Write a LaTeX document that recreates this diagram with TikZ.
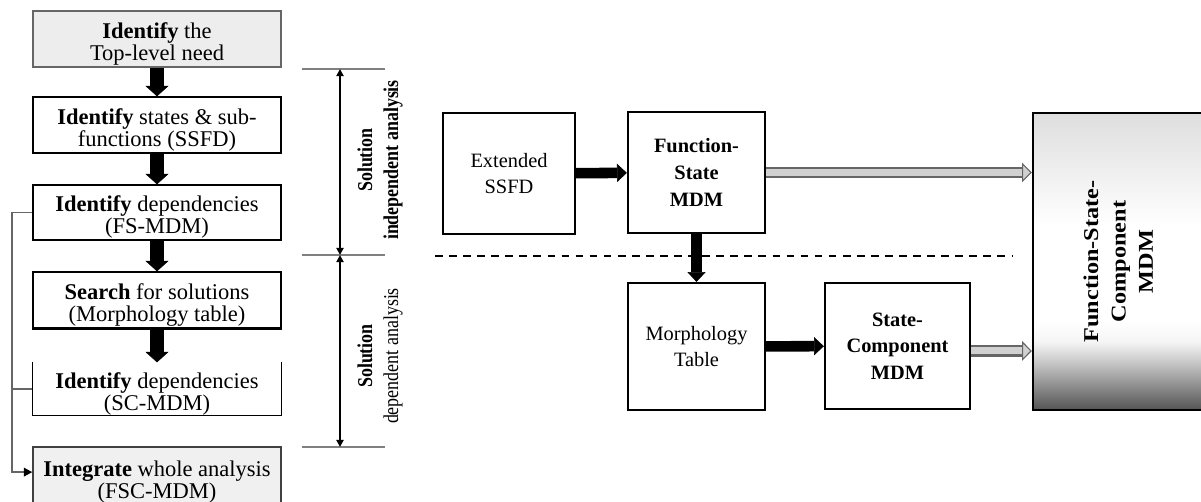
\documentclass[tikz,border=0pt]{standalone}
\usepackage{fontspec}
\setmainfont{Liberation Serif}
\usetikzlibrary{arrows.meta,calc}

% Verlauf der grossen Box (Angaben von unten nach oben)
\pgfdeclareverticalshading{fscverlauf}{100bp}{color(0bp)=(black!67); color(25bp)=(black!67); color(29.5bp)=(black!42); color(33bp)=(black!22); color(36.5bp)=(black!4); color(40bp)=(white); color(56bp)=(white); color(75bp)=(black!13); color(100bp)=(black!13)}

% zweizeiliger Text in den linken Boxen (etwas tiefer gesetzt)
\newcommand{\zweizeilig}[1]{\raisebox{-4pt}[\height][\depth]{\begin{tabular}{@{}c@{}}#1\end{tabular}}}

\tikzset{
    linksbox/.style={draw=black, line width=0.9pt, minimum width=6.2cm, inner sep=0pt, font=\fontsize{16}{15.5}\selectfont},
    rechtsbox/.style={draw=black, line width=1.6pt, align=center, inner sep=0pt, font=\fontsize{14.5}{18.5}\selectfont},
    dickpfeil/.style={line width=9.5pt, -{Triangle[length=7.5pt, width=16.5pt, line width=0.4pt]}},
    pfeil/.style={line width=7.5pt, -{Triangle[length=7pt, width=13pt, line width=0.4pt]}},
    grauPfeil/.style={draw=black!60, line width=8pt, -{Triangle[length=7pt, width=14pt, line width=0.8pt, fill=black!18]}},
    grauKern/.style={draw=black!18, line width=5pt, shorten >=7pt},
    klammer/.style={draw=black!50, line width=1.3pt},
    massPfeil/.style={line width=2pt, {Triangle[length=5pt, width=5pt]}-{Triangle[length=5pt, width=5pt]}},
    rueckLinie/.style={draw=black!60, line width=1.4pt},
    bezeichnung/.style={align=center, inner sep=0pt, font=\fontsize{15}{18.5}\selectfont}
}

\begin{document}
\begin{tikzpicture}[x=0.025cm, y=-0.025cm]
    % Bildgroesse
        \useasboundingbox (0, 0) rectangle (1201, 501);
        \clip (0, 0) rectangle (1201, 501);

    % Linke Spalte
        \node[linksbox, draw=black!60, fill=black!7, minimum height=1.4cm] (box1) at (157, 39) {\zweizeilig{\textbf{Identify} the\\Top-level need}};
        \node[linksbox, minimum height=1.4cm] (box2) at (157, 125) {\zweizeilig{\textbf{Identify} states \& sub-\\functions (SSFD)}};
        \node[linksbox, minimum height=1.375cm] (box3) at (157, 212.5) {\zweizeilig{\textbf{Identify} dependencies\\(FS-MDM)}};
        \node[linksbox, minimum height=1.4cm] (box4) at (157, 300) {\zweizeilig{\textbf{Search} for solutions\\(Morphology table)}};
        \node[linksbox, draw=none, minimum height=1.3cm] (box5) at (157, 389) {\zweizeilig{\textbf{Identify} dependencies\\(SC-MDM)}};
        \node[linksbox, draw=black!75, fill=black!6, minimum height=1.5cm] (box6) at (157, 477) {\zweizeilig{\textbf{Integrate} whole analysis\\(FSC-MDM)}};
        \draw[line width=0.9pt] (box5.north west) -- (box5.south west) -- (box5.south east) -- (box5.north east);
        \draw[line width=2pt] (box4.south west) -- (box4.south east);

    % Pfeile links
        \draw[dickpfeil] (box1) -- (box2);
        \draw[dickpfeil] (box2) -- (box3);
        \draw[dickpfeil] (box3) -- (box4);
        \draw[dickpfeil] (box4) -- (box5);

    % Rueckfuehrung
        \coordinate (rueck) at (12, 0);
        \coordinate (ziel6) at ($(box6.north west)!0.42!(box6.south west)$);
        \draw[rueckLinie, -{Triangle[length=6pt, width=6pt, color=black]}] (box3.west) -- (rueck |- box3.west) -- (rueck |- ziel6) -- (ziel6);
        \draw[rueckLinie] (box5.west) -- (rueck |- box5.west);

    % Bemassung
        \coordinate (k1) at (340, 69);
        \coordinate (k2) at (340, 255);
        \coordinate (k3) at (340, 447);
        \draw[klammer] ($(k1)+(-38, 0)$) -- ($(k1)+(45, 0)$);
        \draw[klammer] ($(k2)+(-38, 0)$) -- ($(k2)+(45, 0)$);
        \draw[klammer] ($(k3)+(-38, 0)$) -- ($(k3)+(45, 0)$);
        \draw[massPfeil] (k1) -- (k2);
        \draw[massPfeil] (k2) -- (k3);
        \node[bezeichnung, rotate=90, xscale=0.85] (lab1) at (380, 160) {\textbf{Solution}\\\textbf{independent analysis}};
        \node[bezeichnung, rotate=90, xscale=0.85] (lab2) at (380, 356) {\textbf{Solution}\\dependent analysis};

    % Rechte Seite
        \node[rechtsbox, minimum width=3.3cm, minimum height=3.025cm] (ssfd) at (509, 173.5) {Extended\\SSFD};
        \node[rechtsbox, minimum width=3.425cm, minimum height=3.025cm, font=\fontsize{14.5}{19}\selectfont\bfseries] (fs) at (696.5, 172.5) {Function-\\State\\MDM};
        \node[rechtsbox, minimum width=3.425cm, minimum height=3.175cm] (morph) at (696.5, 346.5) {Morphology\\Table};
        \node[rechtsbox, minimum width=3.625cm, minimum height=3.15cm, font=\fontsize{14.5}{19}\selectfont\bfseries] (sc) at (897.5, 346) {State-\\Component\\MDM};
        \node[draw=black, line width=1.6pt, shading=fscverlauf, minimum width=4.35cm, minimum height=7.425cm, inner sep=0pt] (fsc) at (1120, 261.5)
            {\rotatebox{90}{\scalebox{1.15}[1]{\fontsize{15}{19.5}\selectfont\bfseries\begin{tabular}{@{}c@{}}Function-State-\\Component\\MDM\end{tabular}}}};

    % Trennlinie
        \coordinate (trennL) at (435, 256);
        \coordinate (trennR) at (1013, 256);
        \draw[line width=0.9pt, dash pattern=on 5.5pt off 4.5pt] (trennL) -- (trennR);

    % Verbindungen rechts
        \coordinate (scaus) at ([yshift=-3.5pt]sc.east);
        \draw[pfeil] (ssfd) -- (fs);
        \draw[pfeil] (fs) -- (morph);
        \draw[pfeil] (morph) -- (sc);
        \draw[grauPfeil] (fs.east) -- (fsc.west |- fs.east);
        \draw[grauKern] (fs.east) -- (fsc.west |- fs.east);
        \draw[grauPfeil] (scaus) -- (fsc.west |- scaus);
        \draw[grauKern] (scaus) -- (fsc.west |- scaus);
\end{tikzpicture}
\end{document}
